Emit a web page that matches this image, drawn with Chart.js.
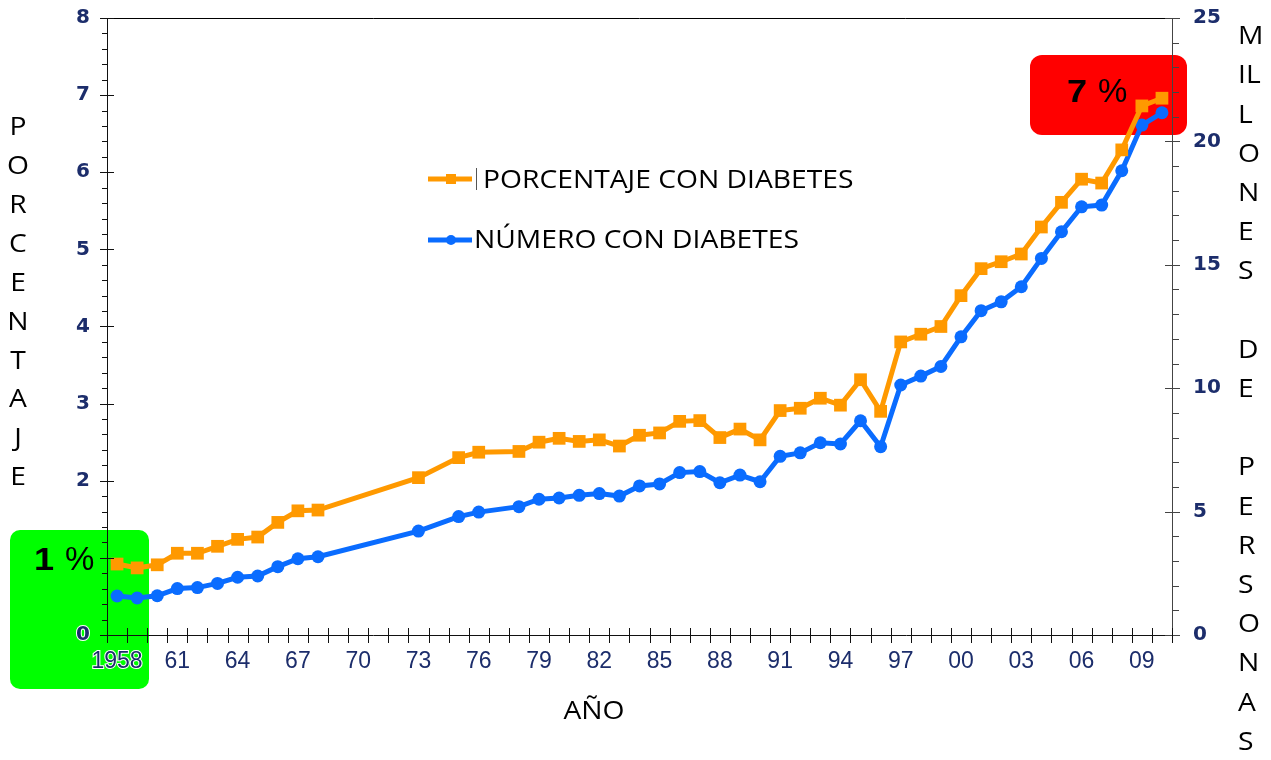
<!DOCTYPE html>
<html>
<head>
<meta charset="utf-8">
<script src="https://cdn.jsdelivr.net/npm/chart.js@4.4.1/dist/chart.umd.min.js"></script>
<style>
html,body{margin:0;padding:0;background:#fff;overflow:hidden;}
canvas{display:block;}
</style>
</head>
<body>
<canvas id="c" width="1271" height="760"></canvas>
<script>
// ---- DATA ----
const years = [];
for (let y = 1958; y <= 2010; y++) years.push(String(y));
const percentData = [0.92,0.87,0.91,1.06,1.06,1.15,1.24,1.27,1.46,1.61,1.62,
  null,null,null,null,2.04,null,2.30,2.37,null,2.38,2.50,2.55,2.51,2.53,2.45,2.59,2.62,
  2.77,2.78,2.56,2.67,2.53,2.91,2.94,3.07,2.98,3.31,2.90,3.80,3.90,4.00,4.40,4.75,
  4.84,4.94,5.29,5.61,5.91,5.86,6.29,6.86,6.96];
const numberData = [1.58,1.50,1.59,1.88,1.92,2.09,2.34,2.39,2.77,3.09,3.17,
  null,null,null,null,4.21,null,4.80,4.98,null,5.20,5.50,5.55,5.66,5.73,5.63,6.04,6.12,
  6.58,6.62,6.17,6.48,6.21,7.24,7.38,7.79,7.74,8.68,7.63,10.13,10.49,10.88,12.08,13.14,
  13.50,14.11,15.26,16.34,17.35,17.42,18.81,20.66,21.16];
const xTickLabels = {"1958":"1958","1961":"61","1964":"64","1967":"67","1970":"70","1973":"73",
  "1976":"76","1979":"79","1982":"82","1985":"85","1988":"88","1991":"91","1994":"94",
  "1997":"97","2000":"00","2003":"03","2006":"06","2009":"09"};
const leftTickLabels = ["0","","2","3","4","5","6","7","8"]; // "1" is covered by the "1 %" note
const rightTickLabels = ["0","5","10","15","20","25"];
const seriesNames = ["PORCENTAJE CON DIABETES","NÚMERO CON DIABETES"];
const leftTitle = "PORCENTAJE";
const rightTitleLines = ["M","IL","L","O","N","E","S","","D","E","","P","E","R","S","O","N","A","S"];
const xTitle = "AÑO";
const notes = [["1", "%"], ["7", "%"]];

const ORANGE = "#ff9900", BLUE = "#0a6cff", NAVY = "#1c2d6b";
const SX = 1.13; // horizontal stretch of the reference lettering

function stretchedText(ctx, txt, x, y, align) {
  ctx.save();
  ctx.translate(x, y);
  ctx.scale(SX, 1);
  ctx.textAlign = align;
  ctx.fillText(txt, 0, 0);
  ctx.restore();
}

const decor = {
  id: "decor",
  beforeDraw(chart) {
    const ctx = chart.ctx;
    ctx.save();
    function rr(x, y, w, h, r, col) {
      ctx.fillStyle = col;
      ctx.beginPath();
      ctx.roundRect(x, y, w, h, r);
      ctx.fill();
    }
    rr(10, 530, 139, 159, 10, "#00ff00");
    rr(1030, 55, 157, 80, 12, "#ff0000");
    ctx.fillStyle = "#000";
    ctx.textBaseline = "middle";
    ctx.font = "bold 32px 'Liberation Sans', Arial, sans-serif";
    stretchedText(ctx, notes[0][0], 34, 561, "left");
    stretchedText(ctx, notes[1][0], 1067, 93, "left");
    ctx.font = "33px 'Liberation Sans', Arial, sans-serif";
    ctx.textAlign = "left";
    ctx.fillText(notes[0][1], 65, 561);
    ctx.fillText(notes[1][1], 1098, 93);
    ctx.restore();
  },
  afterDraw(chart) {
    const ctx = chart.ctx;
    const ca = chart.chartArea;
    const yl = chart.scales.y, yr = chart.scales.y2, x = chart.scales.x;
    ctx.save();
    // top border
    ctx.strokeStyle = "#000"; ctx.lineWidth = 1;
    ctx.beginPath(); ctx.moveTo(ca.left, Math.round(ca.top) + 0.5); ctx.lineTo(ca.right, Math.round(ca.top) + 0.5); ctx.stroke();
    // left axis ticks
    ctx.strokeStyle = "#111";
    for (let v = 0; v <= 8.0001; v += 0.2) {
      const py = Math.round(yl.getPixelForValue(v)) + 0.5;
      const major = Math.abs(v - Math.round(v)) < 1e-6;
      ctx.beginPath();
      if (major) { ctx.moveTo(ca.left - 7, py); ctx.lineTo(ca.left + 7, py); }
      else { ctx.moveTo(ca.left - 5, py); ctx.lineTo(ca.left, py); }
      ctx.stroke();
    }
    // right axis ticks
    ctx.strokeStyle = "#444";
    for (let v = 0; v <= 25; v += 1) {
      const py = Math.round(yr.getPixelForValue(v)) + 0.5;
      const major = v % 5 === 0;
      ctx.beginPath();
      if (major) { ctx.moveTo(ca.right - 7, py); ctx.lineTo(ca.right + 8, py); }
      else { ctx.moveTo(ca.right, py); ctx.lineTo(ca.right + 7, py); }
      ctx.stroke();
    }
    // x axis ticks at category boundaries
    ctx.strokeStyle = "#111";
    const n = years.length;
    for (let i = 0; i <= n; i++) {
      const px = Math.round(x.getPixelForValue(i - 0.5)) + 0.5;
      ctx.beginPath(); ctx.moveTo(px, ca.bottom - 7); ctx.lineTo(px, ca.bottom + 8); ctx.stroke();
    }
    // legend
    ctx.lineWidth = 5;
    ctx.strokeStyle = ORANGE;
    ctx.beginPath(); ctx.moveTo(428, 179); ctx.lineTo(472, 179); ctx.stroke();
    ctx.fillStyle = ORANGE; ctx.fillRect(446, 174, 10, 10);
    ctx.strokeStyle = BLUE;
    ctx.beginPath(); ctx.moveTo(428, 240); ctx.lineTo(472, 240); ctx.stroke();
    ctx.fillStyle = BLUE; ctx.beginPath(); ctx.arc(451, 240, 5, 0, Math.PI * 2); ctx.fill();
    ctx.lineWidth = 1; ctx.strokeStyle = "#555";
    ctx.beginPath(); ctx.moveTo(476.5, 168); ctx.lineTo(476.5, 190); ctx.stroke();
    ctx.fillStyle = "#000";
    ctx.textBaseline = "middle";
    ctx.font = "25px 'Open Sans', sans-serif";
    stretchedText(ctx, seriesNames[0], 483, 181, "left");
    stretchedText(ctx, seriesNames[1], 474, 241, "left");
    // axis titles
    for (let i = 0; i < leftTitle.length; i++) stretchedText(ctx, leftTitle[i], 18, 128 + i * 38.9, "center");
    for (let i = 0; i < rightTitleLines.length; i++) stretchedText(ctx, rightTitleLines[i], 1238, 37 + i * 39.2, "left");
    stretchedText(ctx, xTitle, 594, 712, "center");
    ctx.restore();
  }
};

new Chart(document.getElementById("c"), {
  type: "line",
  data: {
    labels: years,
    datasets: [
      { label: seriesNames[0], data: percentData, yAxisID: "y", borderColor: ORANGE, backgroundColor: ORANGE,
        borderWidth: 5, pointStyle: "rect", pointRadius: 9, pointBorderWidth: 0, spanGaps: true, tension: 0 },
      { label: seriesNames[1], data: numberData, yAxisID: "y2", borderColor: BLUE, backgroundColor: BLUE,
        borderWidth: 5, pointStyle: "circle", pointRadius: 6.5, pointBorderWidth: 0, spanGaps: true, tension: 0 }
    ]
  },
  options: {
    responsive: false,
    animation: false,
    layout: { padding: { top: 18, left: 0, right: 0, bottom: 0 } },
    plugins: { legend: { display: false }, tooltip: { enabled: false } },
    scales: {
      x: {
        type: "category", offset: true,
        grid: { display: false, drawTicks: false, offset: true },
        border: { display: true, color: "#111", width: 1 },
        ticks: { autoSkip: false, maxRotation: 0, minRotation: 0, padding: 13, color: NAVY,
          textStrokeColor: "#fff", textStrokeWidth: 2,
          font: { family: "'Liberation Sans', Arial, sans-serif", size: 23 },
          callback: function(v) { const l = this.getLabelForValue(v); return xTickLabels[l] || ""; } },
        afterFit(s) { s.height = 125; s.paddingLeft = 0; s.paddingRight = 0; }
      },
      y: {
        position: "left", min: 0, max: 8,
        grid: { display: false, drawTicks: false },
        border: { display: true, color: "#111", width: 1 },
        ticks: { stepSize: 1, padding: 17, color: NAVY,
          textStrokeColor: "#fff", textStrokeWidth: 2,
          font: { family: "'DejaVu Sans', sans-serif", size: 20, weight: "bold" },
          callback: (v) => leftTickLabels[Math.round(v)] },
        afterFit(s) { s.width = 107; s.paddingTop = 0; s.paddingBottom = 0; }
      },
      y2: {
        position: "right", min: 0, max: 25,
        grid: { display: false, drawTicks: false },
        border: { display: true, color: "#444", width: 1 },
        ticks: { stepSize: 5, padding: 21, color: NAVY,
          font: { family: "'DejaVu Sans', sans-serif", size: 20, weight: "bold" },
          callback: (v) => rightTickLabels[Math.round(v / 5)] },
        afterFit(s) { s.width = 99; s.paddingTop = 0; s.paddingBottom = 0; }
      }
    }
  },
  plugins: [decor]
});
</script>
</body>
</html>
